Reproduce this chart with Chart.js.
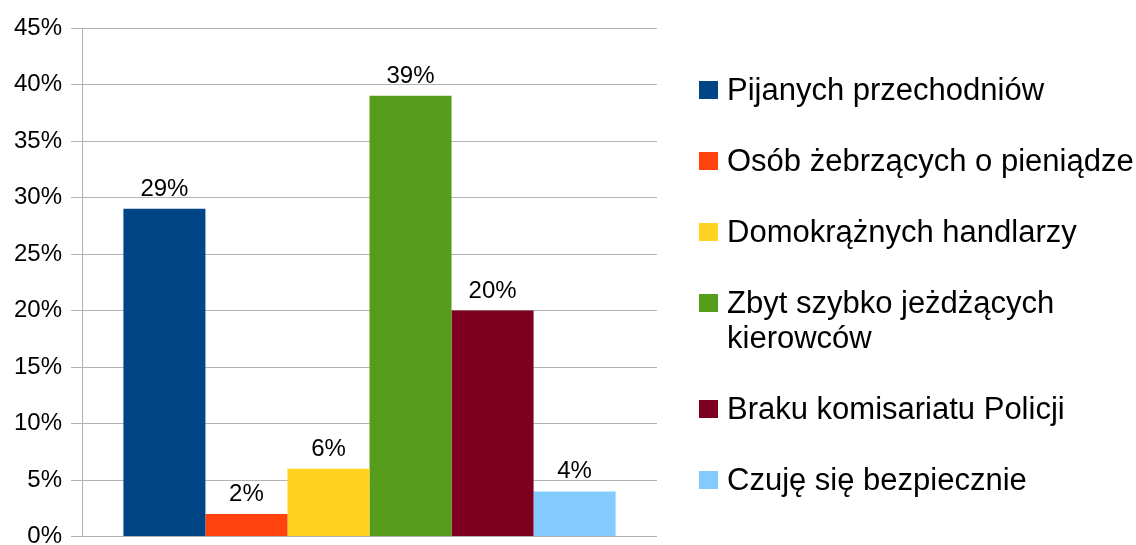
<!DOCTYPE html>
<html lang="pl">
<head>
<meta charset="utf-8">
<script src="https://cdn.jsdelivr.net/npm/chart.js@4/dist/chart.umd.min.js"></script>
<style>
  html, body { margin: 0; padding: 0; background: #fff; overflow: hidden; }
  #wrap { position: relative; width: 1136px; height: 560px; }
  #legend { position: absolute; left: 699px; top: 72px; font-family: "Liberation Sans", Arial, sans-serif; font-size: 31px; line-height: 35px; color: #000; }
  .item { display: flex; align-items: flex-start; margin-bottom: 36px; }
  .box { width: 19px; height: 18px; margin-top: 9px; margin-right: 9px; flex: none; }
  .txt { max-width: 428px; }
</style>
</head>
<body>
<div id="wrap">
  <canvas id="chart" width="1136" height="560"></canvas>
  <div id="legend"></div>
</div>
<script>
const categories = [''];
const seriesNames = [
  'Pijanych przechodniów',
  'Osób żebrzących o pieniądze',
  'Domokrążnych handlarzy',
  'Zbyt szybko jeżdżących kierowców',
  'Braku komisariatu Policji',
  'Czuję się bezpiecznie'
];
const seriesValues = [29, 2, 6, 39, 20, 4];
const seriesColors = ['#004586', '#ff420e', '#ffd320', '#579d1c', '#7e0021', '#83caff'];
const yTicks = [0, 5, 10, 15, 20, 25, 30, 35, 40, 45];

document.addEventListener('DOMContentLoaded', () => {
  if (typeof Chart === 'undefined') {
    console.error('Chart.js not loaded');
    return;
  }

  // values above the bars
  const valueLabels = {
    id: 'valueLabels',
    afterDatasetsDraw(chart) {
      const ctx = chart.ctx;
      ctx.save();
      ctx.font = '24px "Liberation Sans", Arial, sans-serif';
      ctx.fillStyle = '#000';
      ctx.textAlign = 'center';
      ctx.textBaseline = 'alphabetic';
      chart.data.datasets.forEach((ds, i) => {
        chart.getDatasetMeta(i).data.forEach((bar, j) => {
          ctx.fillText(ds.data[j] + '%', bar.x, bar.y - 13);
        });
      });
      ctx.restore();
    }
  };

  const ctx = document.getElementById('chart').getContext('2d');
  new Chart(ctx, {
    type: 'bar',
    data: {
      labels: categories,
      datasets: seriesNames.map((name, i) => ({
        label: name,
        data: [seriesValues[i]],
        backgroundColor: seriesColors[i],
        borderWidth: 0,
        categoryPercentage: 0.856,
        barPercentage: 1.0
      }))
    },
    options: {
      responsive: false,
      animation: false,
      layout: { padding: { left: 0, top: 28, right: 479, bottom: 23 } },
      plugins: {
        legend: { display: false },
        tooltip: { enabled: false }
      },
      scales: {
        x: { display: false },
        y: {
          min: 0,
          max: 45,
          afterBuildTicks(scale) { scale.ticks = yTicks.map(v => ({ value: v })); },
          afterFit(scale) { scale.width = 82; },
          ticks: {
            color: '#000',
            padding: 9,
            font: { family: '"Liberation Sans", Arial, sans-serif', size: 24 },
            callback: v => v + '%'
          },
          grid: { color: '#b3b3b3', tickLength: 11, lineWidth: 1 },
          border: { display: true, color: '#b3b3b3', width: 1 }
        }
      }
    },
    plugins: [valueLabels]
  });

  const legend = document.getElementById('legend');
  seriesNames.forEach((name, i) => {
    const item = document.createElement('div');
    item.className = 'item';
    const box = document.createElement('span');
    box.className = 'box';
    box.style.background = seriesColors[i];
    const txt = document.createElement('span');
    txt.className = 'txt';
    txt.textContent = name;
    item.appendChild(box);
    item.appendChild(txt);
    legend.appendChild(item);
  });
});
</script>
</body>
</html>
